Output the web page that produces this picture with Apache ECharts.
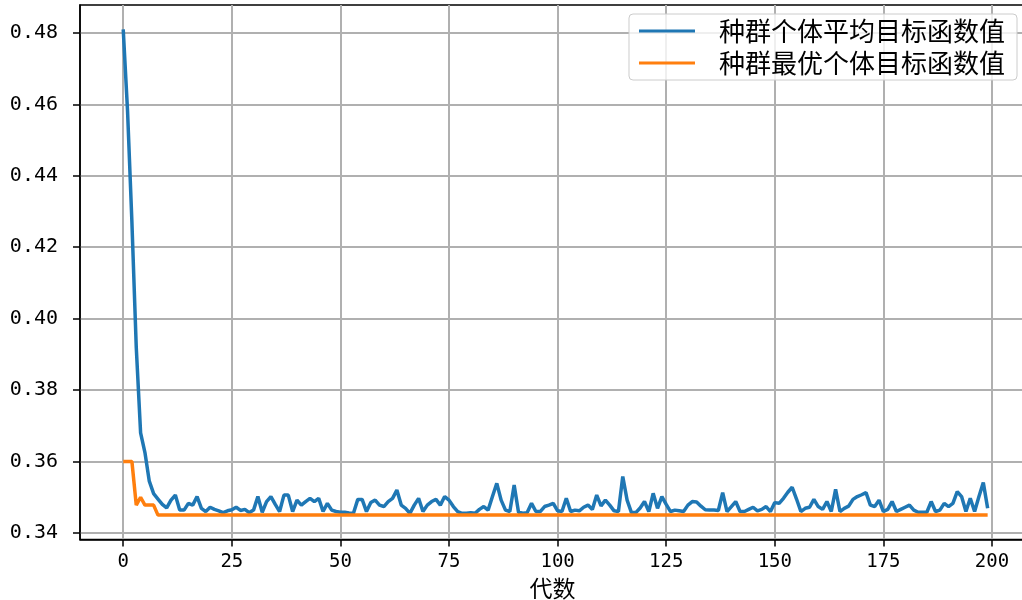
<!DOCTYPE html>
<html>
<head>
<meta charset="utf-8">
<script src="https://cdn.jsdelivr.net/npm/echarts@6/dist/echarts.min.js"></script>
<style>
  html, body { margin: 0; padding: 0; background: #fff; }
  #chart { width: 1022px; height: 600px; }
</style>
</head>
<body>
<div id="chart"></div>
<script>
// 种群个体平均目标函数值 (index = 代数)
var avgValues = [
  0.481, 0.458, 0.427, 0.392, 0.368, 0.3625, 0.3545, 0.351, 0.3495, 0.348,
  0.347, 0.3492, 0.3506, 0.3464, 0.3464, 0.3483, 0.3478, 0.3502, 0.3469, 0.346,
  0.3472, 0.3466, 0.3462, 0.3457, 0.3462, 0.3465, 0.3472, 0.3463, 0.3466, 0.3457,
  0.3464, 0.3502, 0.3458, 0.3488, 0.3502, 0.348, 0.346, 0.3506, 0.3506, 0.346,
  0.3492, 0.3478, 0.3488, 0.3497, 0.3488, 0.3497, 0.346, 0.3483, 0.3464, 0.346,
  0.3458, 0.3458, 0.3456, 0.3455, 0.3494, 0.3494, 0.346, 0.3485, 0.3492, 0.3478,
  0.3474, 0.3488, 0.3497, 0.352, 0.3478, 0.3469, 0.3455, 0.3478, 0.3497, 0.346,
  0.3478, 0.3488, 0.3494, 0.3478, 0.3502, 0.3492, 0.3474, 0.346, 0.3455, 0.3455,
  0.3457, 0.3455, 0.3466, 0.3474, 0.3464, 0.3502, 0.3539, 0.3492, 0.3464, 0.346,
  0.3534, 0.3458, 0.3455, 0.3457, 0.3483, 0.346, 0.346, 0.3474, 0.3478, 0.3483,
  0.3462, 0.346, 0.3497, 0.346, 0.3464, 0.3462, 0.3472, 0.3478, 0.3466, 0.3506,
  0.3476, 0.3492, 0.3478, 0.3462, 0.346, 0.3558, 0.3492, 0.3457, 0.3457, 0.347,
  0.3488, 0.346, 0.3511, 0.3469, 0.3502, 0.348, 0.346, 0.3464, 0.3462, 0.346,
  0.3478, 0.3488, 0.3487, 0.3475, 0.3465, 0.3464, 0.3464, 0.3463, 0.3513, 0.346,
  0.3474, 0.3488, 0.346, 0.346, 0.3466, 0.3472, 0.3462, 0.3466, 0.3474, 0.346,
  0.3485, 0.3483, 0.3497, 0.3514, 0.3528, 0.3495, 0.346, 0.3469, 0.3472, 0.3494,
  0.3474, 0.3466, 0.3488, 0.346, 0.3522, 0.346, 0.3469, 0.3475, 0.3494, 0.3502,
  0.3507, 0.3513, 0.3478, 0.3474, 0.3492, 0.346, 0.3466, 0.3488, 0.346, 0.3466,
  0.3472, 0.3478, 0.3464, 0.3458, 0.3458, 0.3458, 0.3488, 0.346, 0.3464, 0.3483,
  0.3474, 0.3483, 0.3516, 0.3502, 0.346, 0.3497, 0.346, 0.3502, 0.3541, 0.3469
];

// 种群最优个体目标函数值
var bestValues = [
  0.36, 0.36, 0.36, 0.3478, 0.35, 0.3478, 0.3478, 0.3478, 0.345, 0.345,
  0.345, 0.345, 0.345, 0.345, 0.345, 0.345, 0.345, 0.345, 0.345, 0.345,
  0.345, 0.345, 0.345, 0.345, 0.345, 0.345, 0.345, 0.345, 0.345, 0.345,
  0.345, 0.345, 0.345, 0.345, 0.345, 0.345, 0.345, 0.345, 0.345, 0.345,
  0.345, 0.345, 0.345, 0.345, 0.345, 0.345, 0.345, 0.345, 0.345, 0.345,
  0.345, 0.345, 0.345, 0.345, 0.345, 0.345, 0.345, 0.345, 0.345, 0.345,
  0.345, 0.345, 0.345, 0.345, 0.345, 0.345, 0.345, 0.345, 0.345, 0.345,
  0.345, 0.345, 0.345, 0.345, 0.345, 0.345, 0.345, 0.345, 0.345, 0.345,
  0.345, 0.345, 0.345, 0.345, 0.345, 0.345, 0.345, 0.345, 0.345, 0.345,
  0.345, 0.345, 0.345, 0.345, 0.345, 0.345, 0.345, 0.345, 0.345, 0.345,
  0.345, 0.345, 0.345, 0.345, 0.345, 0.345, 0.345, 0.345, 0.345, 0.345,
  0.345, 0.345, 0.345, 0.345, 0.345, 0.345, 0.345, 0.345, 0.345, 0.345,
  0.345, 0.345, 0.345, 0.345, 0.345, 0.345, 0.345, 0.345, 0.345, 0.345,
  0.345, 0.345, 0.345, 0.345, 0.345, 0.345, 0.345, 0.345, 0.345, 0.345,
  0.345, 0.345, 0.345, 0.345, 0.345, 0.345, 0.345, 0.345, 0.345, 0.345,
  0.345, 0.345, 0.345, 0.345, 0.345, 0.345, 0.345, 0.345, 0.345, 0.345,
  0.345, 0.345, 0.345, 0.345, 0.345, 0.345, 0.345, 0.345, 0.345, 0.345,
  0.345, 0.345, 0.345, 0.345, 0.345, 0.345, 0.345, 0.345, 0.345, 0.345,
  0.345, 0.345, 0.345, 0.345, 0.345, 0.345, 0.345, 0.345, 0.345, 0.345,
  0.345, 0.345, 0.345, 0.345, 0.345, 0.345, 0.345, 0.345, 0.345, 0.345
];

var xTicks = [0, 25, 50, 75, 100, 125, 150, 175, 200];
var yTicks = [0.34, 0.36, 0.38, 0.40, 0.42, 0.44, 0.46, 0.48];
var seriesNames = ['种群个体平均目标函数值', '种群最优个体目标函数值'];

var chart = echarts.init(document.getElementById('chart'));

chart.setOption({
  animation: false,
  backgroundColor: '#ffffff',
  grid: {
    left: 80,
    top: 5,
    right: -3,
    bottom: 60.6,
    outerBoundsMode: 'none',
    containLabel: false,
    show: true,
    borderColor: '#000',
    borderWidth: 1.5
  },
  legend: {
    orient: 'vertical',
    right: 5,
    top: 14,
    padding: [4, 12, 4, 10],
    itemGap: 6,
    itemWidth: 56,
    itemHeight: 3,
    icon: 'rect',
    borderColor: '#cccccc',
    borderWidth: 1,
    borderRadius: 4,
    backgroundColor: 'rgba(255,255,255,0.8)',
    textStyle: {
      fontFamily: 'Noto Sans CJK SC',
      fontSize: 26,
      lineHeight: 26,
      color: '#000',
      padding: [0, 0, 0, 19]
    },
    data: seriesNames
  },
  xAxis: {
    type: 'value',
    min: -9.95,
    max: 207.6,
    name: '代数',
    nameLocation: 'middle',
    nameGap: 31,
    nameTextStyle: {
      fontFamily: 'Noto Sans CJK SC',
      fontSize: 23,
      color: '#000'
    },
    axisLine: { show: true, onZero: false, lineStyle: { color: '#000', width: 1.5 } },
    axisTick: {
      show: true,
      inside: false,
      length: 7,
      customValues: xTicks,
      lineStyle: { color: '#000', width: 1.5 }
    },
    axisLabel: {
      customValues: xTicks,
      margin: 13,
      fontFamily: 'DejaVu Sans Mono',
      fontSize: 19,
      color: '#000'
    },
    splitLine: { show: true, lineStyle: { color: '#b0b0b0', width: 2 } }
  },
  yAxis: {
    type: 'value',
    min: 0.3382,
    max: 0.4878,
    axisLine: { show: true, onZero: false, lineStyle: { color: '#000', width: 1.5 } },
    axisTick: {
      show: true,
      inside: false,
      length: 7,
      customValues: yTicks,
      lineStyle: { color: '#000', width: 1.5 }
    },
    axisLabel: {
      customValues: yTicks,
      margin: 22,
      fontFamily: 'DejaVu Sans Mono',
      fontSize: 20,
      color: '#000',
      formatter: function (v) { return v.toFixed(2); }
    },
    splitLine: { show: true, lineStyle: { color: '#b0b0b0', width: 2 } }
  },
  series: [
    {
      name: seriesNames[0],
      type: 'line',
      color: '#1f77b4',
      symbol: 'none',
      lineStyle: { width: 3.5, color: '#1f77b4' },
      data: avgValues.map(function (v, i) { return [i, v]; }),
      z: 2
    },
    {
      name: seriesNames[1],
      type: 'line',
      color: '#ff7f0e',
      symbol: 'none',
      lineStyle: { width: 3.5, color: '#ff7f0e' },
      data: bestValues.map(function (v, i) { return [i, v]; }),
      z: 3
    }
  ]
});
</script>
</body>
</html>
